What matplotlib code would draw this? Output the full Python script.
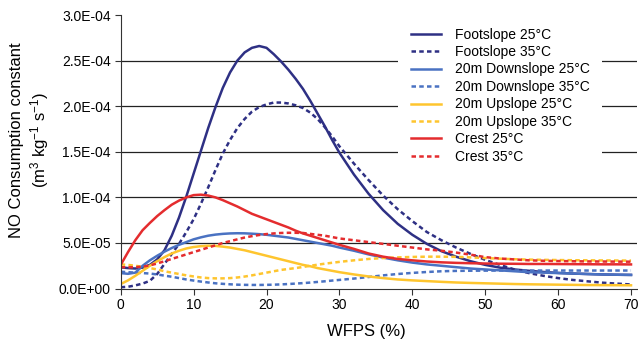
import numpy as np
import matplotlib
matplotlib.use("Agg")
import matplotlib.pyplot as plt
from matplotlib.ticker import FuncFormatter

# Police proche de Helvetica/Arial
plt.rcParams['font.family'] = ['Liberation Sans', 'DejaVu Sans']
plt.rcParams['mathtext.fontset'] = 'custom'
plt.rcParams['mathtext.rm'] = 'Liberation Sans'
plt.rcParams['mathtext.it'] = 'Liberation Sans:italic'

# Abscisses communes (WFPS %)
wfps = list(range(0, 30)) + list(range(30, 71, 2))

# Valeurs (x 1e-5 m3 kg-1 s-1)
footslope_25 = [2.33, 2.25, 2.2, 2.3, 2.6, 3.2, 4.2, 5.8, 7.8, 10.1,
                12.6, 15.1, 17.6, 19.9, 22.0, 23.7, 25.0, 25.9, 26.4, 26.6,
                26.4, 25.7, 24.9, 24.0, 23.0, 21.9, 20.6, 19.2, 17.8, 16.3,
                14.9, 12.5, 10.4, 8.6, 7.1, 5.9, 4.9, 4.1, 3.5, 3.0,
                2.6, 2.3, 2.1, 1.95, 1.82, 1.72, 1.65, 1.6, 1.55, 1.52, 1.5]
footslope_35 = [0.15, 0.2, 0.35, 0.55, 0.85, 1.6, 2.7, 3.8, 4.9, 6.2,
                7.6, 9.3, 11.1, 13.0, 14.8, 16.3, 17.6, 18.6, 19.4, 19.9,
                20.2, 20.4, 20.4, 20.3, 20.1, 19.8, 19.3, 18.6, 17.7, 16.7,
                15.6, 13.7, 11.9, 10.2, 8.7, 7.4, 6.2, 5.3, 4.5, 3.8,
                3.15, 2.6, 2.1, 1.7, 1.4, 1.15, 0.95, 0.8, 0.65, 0.55, 0.45]
downslope_25 = [1.7, 1.62, 1.75, 2.5, 3.1, 3.6, 4.05, 4.45, 4.8, 5.1,
                5.4, 5.62, 5.8, 5.92, 6.0, 6.05, 6.07, 6.06, 6.02, 5.97,
                5.9, 5.8, 5.7, 5.6, 5.45, 5.3, 5.15, 5.0, 4.85, 4.7,
                4.5, 4.15, 3.75, 3.4, 3.1, 2.85, 2.65, 2.5, 2.35, 2.2,
                2.1, 2.0, 1.9, 1.8, 1.75, 1.7, 1.65, 1.6, 1.55, 1.52, 1.5]
downslope_35 = [1.85, 1.8, 1.75, 1.7, 1.65, 1.55, 1.42, 1.3, 1.15, 1.0,
                0.88, 0.77, 0.67, 0.58, 0.52, 0.47, 0.43, 0.41, 0.4, 0.4,
                0.41, 0.43, 0.46, 0.5, 0.55, 0.6, 0.66, 0.73, 0.8, 0.88,
                0.95, 1.1, 1.27, 1.45, 1.6, 1.72, 1.82, 1.9, 1.94, 1.96,
                1.97, 1.98, 1.98, 1.98, 1.98, 1.98, 1.98, 1.98, 1.98, 1.98, 1.98]
upslope_25 = [0.5, 0.9, 1.4, 1.95, 2.5, 3.0, 3.45, 3.85, 4.15, 4.4,
              4.56, 4.65, 4.7, 4.68, 4.6, 4.5, 4.35, 4.2, 4.0, 3.8,
              3.6, 3.4, 3.2, 3.0, 2.8, 2.6, 2.45, 2.25, 2.1, 1.95,
              1.8, 1.55, 1.33, 1.15, 1.0, 0.9, 0.82, 0.74, 0.67, 0.62,
              0.58, 0.54, 0.5, 0.47, 0.45, 0.43, 0.41, 0.39, 0.38, 0.37, 0.36]
upslope_35 = [2.65, 2.6, 2.5, 2.4, 2.25, 2.1, 1.9, 1.75, 1.6, 1.45,
              1.33, 1.22, 1.15, 1.12, 1.12, 1.15, 1.22, 1.32, 1.45, 1.6,
              1.75, 1.9, 2.05, 2.15, 2.25, 2.37, 2.5, 2.62, 2.73, 2.83,
              2.93, 3.1, 3.25, 3.35, 3.42, 3.47, 3.5, 3.5, 3.48, 3.42,
              3.35, 3.28, 3.22, 3.18, 3.15, 3.13, 3.11, 3.1, 3.09, 3.08, 3.07]
crest_25 = [2.6, 4.0, 5.3, 6.4, 7.2, 7.95, 8.6, 9.2, 9.65, 10.0,
            10.25, 10.3, 10.2, 10.0, 9.7, 9.35, 9.0, 8.6, 8.2, 7.9,
            7.6, 7.3, 7.0, 6.7, 6.35, 6.05, 5.8, 5.55, 5.3, 5.05,
            4.8, 4.35, 3.85, 3.5, 3.25, 3.1, 2.97, 2.88, 2.82, 2.78,
            2.75, 2.73, 2.72, 2.7, 2.7, 2.69, 2.68, 2.67, 2.66, 2.66, 2.65]
crest_35 = [2.35, 2.33, 2.35, 2.4, 2.55, 2.75, 3.0, 3.25, 3.5, 3.75,
            4.0, 4.25, 4.5, 4.75, 5.0, 5.2, 5.4, 5.6, 5.75, 5.88,
            5.98, 6.05, 6.1, 6.12, 6.12, 6.1, 6.0, 5.9, 5.8, 5.65,
            5.5, 5.3, 5.1, 4.9, 4.7, 4.5, 4.3, 4.15, 3.95, 3.72,
            3.45, 3.3, 3.2, 3.1, 3.05, 3.02, 3.0, 2.98, 2.97, 2.96, 2.95]

labels = ['Footslope 25°C', 'Footslope 35°C',
          '20m Downslope 25°C', '20m Downslope 35°C',
          '20m Upslope 25°C', '20m Upslope 35°C',
          'Crest 25°C', 'Crest 35°C']
series = [footslope_25, footslope_35, downslope_25, downslope_35,
          upslope_25, upslope_35, crest_25, crest_35]
colors = ['#2e3084', '#2e3084', '#4a72c2', '#4a72c2',
          '#fec52e', '#fec52e', '#e42c2e', '#e42c2e']
dashed = (0, (1.8, 1.3))

# Figure
fig = plt.figure(figsize=(6.38, 3.45), dpi=100)
ax = fig.add_axes([0.1892, 0.1635, 0.809, 0.793])

x = np.array(wfps)
for i, (vals, lab, col) in enumerate(zip(series, labels, colors)):
    ls = '-' if i % 2 == 0 else dashed
    ax.plot(x, np.array(vals) * 1e-5, color=col, lw=1.8, ls=ls, label=lab)

# Axes
ax.set_xlim(0, 70.8)
ax.set_ylim(0, 3e-4)
ax.set_xticks(range(0, 71, 10))
ax.set_yticks(np.arange(0, 3.01e-4, 5e-5))
ax.yaxis.set_major_formatter(FuncFormatter(lambda v, p: f"{v:.1E}"))
ax.tick_params(direction='out', length=4, width=0.8, color='#333333',
               labelsize=10, pad=3)
for s in ['top', 'right']:
    ax.spines[s].set_visible(False)
for s in ['left', 'bottom']:
    ax.spines[s].set_color('#333333')
    ax.spines[s].set_linewidth(0.8)

# Grille horizontale
for v in np.arange(5e-5, 2.6e-4, 5e-5):
    ax.axhline(v, color='#222222', lw=0.9, zorder=0.5)

# Légende
leg = ax.legend(loc='upper left', bbox_to_anchor=(398 / 638, 1 - 15 / 345),
                bbox_transform=fig.transFigure, borderaxespad=0,
                fontsize=10, frameon=True, fancybox=False, framealpha=1,
                edgecolor='none', facecolor='white', handlelength=2.2,
                handletextpad=1.0, labelspacing=0.25, borderpad=0.9)
leg.set_zorder(5)

# Titres des axes
fig.text(366.7 / 638, 1 - 331.7 / 345, 'WFPS (%)', ha='center', va='center',
         fontsize=12)
fig.text(30 / 638, 1 - 140 / 345,
         'NO Consumption constant\n(m$^3$ kg$^{-1}$ s$^{-1}$)',
         ha='center', va='center', rotation=90, fontsize=12,
         multialignment='center', linespacing=1.2)

fig.savefig('out.png', dpi=100)
